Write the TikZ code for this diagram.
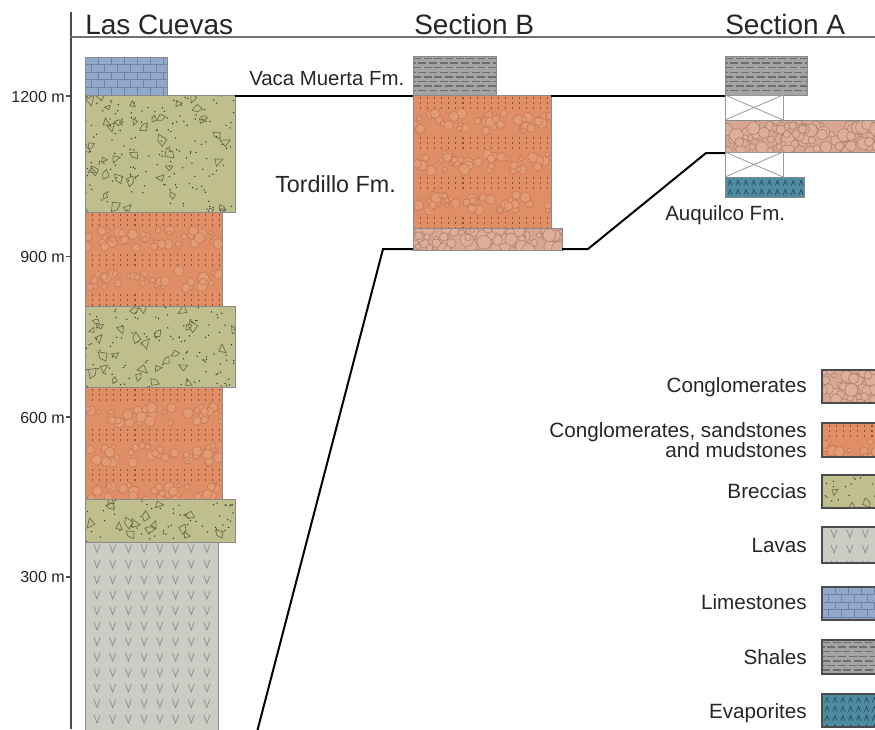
\documentclass[tikz,border=0pt]{standalone}
\usepackage{fontspec}
\setmainfont{Liberation Sans}

% lithology colours
\definecolor{limeFill}{HTML}{93A9CB}
\definecolor{limeLine}{HTML}{6C84A8}
\definecolor{shaleFill}{HTML}{A4A4A4}
\definecolor{shaleLine}{HTML}{6E6E6E}
\definecolor{brecFill}{HTML}{BEBF8C}
\definecolor{brecLine}{HTML}{6A6B48}
\definecolor{cgsmFill}{HTML}{DF8E66}
\definecolor{cgsmLine}{HTML}{C97B59}
\definecolor{cgsmPeb}{HTML}{E39B75}
\definecolor{cgsmDot}{HTML}{935033}
\definecolor{conglFill}{HTML}{D8A792}
\definecolor{conglLine}{HTML}{B38571}
\definecolor{conglPeb}{HTML}{DDAE99}
\definecolor{lavaFill}{HTML}{C9CDC4}
\definecolor{lavaLine}{HTML}{8E948C}
\definecolor{evapFill}{HTML}{4F8CA2}
\definecolor{evapLine}{HTML}{264E5E}
\definecolor{layerEdge}{HTML}{8A8A8A}
\definecolor{inkText}{HTML}{262626}

% tight two-line key text
\newcommand{\keyfont}{\fontsize{15.5}{14.6}\selectfont\setlength{\lineskiplimit}{-20pt}}

\tikzset{
  layer/.style={draw=layerEdge, line width=0.6pt},
  keybox/.style={draw=black!70, line width=0.9pt},
  corr/.style={draw=black, line width=1.5pt},
  axisline/.style={draw=black!70, line width=0.8pt},
  headrule/.style={draw=black!55, line width=1.3pt},
  colname/.style={font=\fontsize{21}{25}\selectfont, text=inkText, inner sep=0pt, anchor=base west},
  fmname/.style={font=\fontsize{15.3}{18}\selectfont, text=inkText, inner sep=0pt, anchor=base west},
  keyname/.style={font=\keyfont, text=inkText, inner sep=0pt, align=right},
  depth/.style={font=\fontsize{12}{14}\selectfont, text=inkText, inner sep=0pt, anchor=base east},
}

% #1 outline style, #2..#5 = x1,y1,x2,y2
\newcommand{\limestonebox}[5][layer]{%
  \begin{scope}
    \clip (#2,#3) rectangle (#4,#5);
    \fill[limeFill] (#2,#3) rectangle (#4,#5);
    \foreach \j in {0,...,5}{
      \draw[limeLine, line width=0.6pt] (#2,#3+7.6*\j) -- (#4,#3+7.6*\j);
      \pgfmathsetmacro{\off}{mod(\j,2)*6.5}
      \foreach \i in {0,...,7}{
        \draw[limeLine, line width=0.6pt] (#2+\off+13*\i,#3+7.6*\j) -- ++(0,7.6);
      }
    }
  \end{scope}
  \draw[#1] (#2,#3) rectangle (#4,#5);
}

\newcommand{\shalebox}[5][layer]{%
  \begin{scope}
    \clip (#2,#3) rectangle (#4,#5);
    \fill[shaleFill] (#2,#3) rectangle (#4,#5);
    \foreach \j in {0,2,...,10}{
      \draw[shaleLine, line width=1pt, dash pattern=on 6pt off 2pt] (#2,#3+2.5+4.6*\j) -- (#4,#3+2.5+4.6*\j);
    }
    \foreach \j in {1,3,...,9}{
      \draw[shaleLine, line width=1pt, dash pattern=on 6pt off 2pt, dash phase=4pt] (#2,#3+2.5+4.6*\j) -- (#4,#3+2.5+4.6*\j);
    }
  \end{scope}
  \draw[#1] (#2,#3) rectangle (#4,#5);
}

\newcommand{\brecciabox}[5][layer]{%
  \begin{scope}
    \clip (#2,#3) rectangle (#4,#5);
    \fill[brecFill] (#2,#3) rectangle (#4,#5);
    \pgfmathtruncatemacro{\nd}{(#4-#2)*((#5-#3)/110)}
    \foreach \k in {1,...,\nd}{
      \pgfmathsetmacro{\px}{#2+rnd*(#4-#2)}
      \pgfmathsetmacro{\py}{#3+rnd*(#5-#3)}
      \fill[black!80] (\px,\py) circle[radius=0.75];
    }
    \pgfmathtruncatemacro{\np}{(#4-#2)*((#5-#3)/420)}
    \foreach \k in {1,...,\np}{
      \pgfmathsetmacro{\px}{#2+rnd*(#4-#2)}
      \pgfmathsetmacro{\py}{#3+rnd*(#5-#3)}
      \pgfmathsetmacro{\pa}{360*rnd}
      \pgfmathsetmacro{\pr}{3.5+3*rnd}
      \ifodd\k\relax
        \draw[brecLine, line width=0.5pt] (\px,\py) +({\pa}:{\pr}) -- +({\pa+110}:{0.8*\pr}) -- +({\pa+200}:{\pr}) -- +({\pa+285}:{0.6*\pr}) -- cycle;
      \else
        \draw[brecLine, line width=0.5pt] (\px,\py) +({\pa}:{\pr}) -- +({\pa+130}:{0.9*\pr}) -- +({\pa+245}:{0.7*\pr}) -- cycle;
      \fi
    }
  \end{scope}
  \draw[#1] (#2,#3) rectangle (#4,#5);
}

\newcommand{\cgsmbox}[5][layer]{%
  \begin{scope}
    \clip (#2,#3) rectangle (#4,#5);
    \fill[cgsmFill] (#2,#3) rectangle (#4,#5);
    \foreach \j in {0,...,4}{
      \foreach \dy in {3,8,13}{
        \draw[cgsmDot, line width=0.8pt, dash pattern=on 0.8pt off 4.5pt] (#2,#3+40*\j+\dy) -- (#4,#3+40*\j+\dy);
      }
      \pgfmathtruncatemacro{\nc}{(#4-#2)/3.2}
      \foreach \k in {1,...,\nc}{
        \pgfmathsetmacro{\px}{#2+rnd*(#4-#2)}
        \pgfmathsetmacro{\py}{#3+40*\j+18+rnd*18}
        \pgfmathsetmacro{\pr}{2+3.5*rnd}
        \filldraw[fill=cgsmPeb, draw=cgsmLine, line width=0.5pt] (\px,\py) circle[radius=\pr];
      }
    }
  \end{scope}
  \draw[#1] (#2,#3) rectangle (#4,#5);
}

\newcommand{\conglbox}[5][layer]{%
  \begin{scope}
    \clip (#2,#3) rectangle (#4,#5);
    \fill[conglFill] (#2,#3) rectangle (#4,#5);
    \pgfmathtruncatemacro{\nc}{(#4-#2)*((#5-#3)/40)}
    \foreach \k in {1,...,\nc}{
      \pgfmathsetmacro{\px}{#2+rnd*(#4-#2)}
      \pgfmathsetmacro{\py}{#3+rnd*(#5-#3)}
      \pgfmathsetmacro{\pr}{2.5+4.5*rnd}
      \filldraw[fill=conglPeb, draw=conglLine, line width=0.5pt] (\px,\py) circle[radius=\pr];
    }
  \end{scope}
  \draw[#1] (#2,#3) rectangle (#4,#5);
}

\newcommand{\lavabox}[5][layer]{%
  \begin{scope}
    \clip (#2,#3) rectangle (#4,#5);
    \fill[lavaFill] (#2,#3) rectangle (#4,#5);
    \foreach \i in {0,...,9}{
      \foreach \j in {0,...,12}{
        \draw[lavaLine, line width=0.6pt] (#2+9+15.7*\i,#3+2.5+15.5*\j) -- ++(3,8) -- ++(3,-8);
      }
    }
  \end{scope}
  \draw[#1] (#2,#3) rectangle (#4,#5);
}

\newcommand{\evapbox}[5][layer]{%
  \begin{scope}
    \clip (#2,#3) rectangle (#4,#5);
    \fill[evapFill] (#2,#3) rectangle (#4,#5);
    \foreach \i in {0,...,11}{
      \foreach \j in {0,...,4}{
        \draw[evapLine, line width=0.55pt] (#2+3+7.9*\i,#3+8.5+9*\j) -- ++(2,-5) -- ++(2,5);
      }
    }
  \end{scope}
  \draw[#1] (#2,#3) rectangle (#4,#5);
}

% unexposed interval
\newcommand{\coveredbox}[4]{%
  \draw[draw=black!40, fill=white, line width=0.6pt] (#1,#2) rectangle (#3,#4);
  \draw[draw=black!40, line width=0.6pt] (#1,#2) -- (#3,#4) (#1,#4) -- (#3,#2);
}

\begin{document}
\begin{tikzpicture}[x=0.75pt,y=0.75pt,yscale=-1,xscale=1]
\useasboundingbox (0,0) rectangle (875,729);
\clip (0,0) rectangle (875,729);
\pgfmathsetseed{11}

%Straight Lines: depth axis and header rule
\draw [axisline] (71,12) -- (71,729);
\draw [headrule] (71,37) -- (880,37);
\draw [axisline] (66,96) -- (71,96);
\draw [axisline] (66,256.5) -- (71,256.5);
\draw [axisline] (66,417) -- (71,417);
\draw [axisline] (66,577) -- (71,577);

% Text Node
\node [depth] (d1200) at (65,102) {1200 m};
\node [depth] (d900) at (65,262.5) {900 m};
\node [depth] (d600) at (65,423) {600 m};
\node [depth] (d300) at (65,582.5) {300 m};

% Text Node
\node [colname] (lasCuevas) at (85,34) {Las Cuevas};
\node [colname] (secB) at (414,34.5) {Section B};
\node [colname] (secA) at (725,34.5) {Section A};

%Shape: Las Cuevas column
\limestonebox{85}{57}{167}{95}
\brecciabox{85}{95}{235}{212}
\cgsmbox{85}{212}{222}{306}
\brecciabox{85}{306}{235}{387}
\cgsmbox{85}{387}{222}{499}
\brecciabox{85}{499}{235}{542}
\lavabox{85}{542}{218}{735}

%Shape: Section B column
\shalebox{413}{56}{496}{95}
\cgsmbox{413}{95}{551}{228}
\conglbox{413}{228}{562}{250}

%Shape: Section A column
\shalebox{725}{56}{807}{95}
\coveredbox{725}{95}{783}{120}
\conglbox{725}{120}{880}{152}
\coveredbox{725}{152}{783}{177}
\evapbox{725}{177}{804}{197}

% correlation tie points
\coordinate (vmLC) at (235,95.5);
\coordinate (vmBwest) at (413,95.5);
\coordinate (vmBeast) at (551,95.5);
\coordinate (vmAwest) at (725,95.5);
\coordinate (tdFoot) at (257,732);
\coordinate (tdKnee) at (383,249);
\coordinate (tdBwest) at (413,249);
\coordinate (tdBeast) at (562,249);
\coordinate (tdStep) at (588,249);
\coordinate (tdRise) at (706,153);
\coordinate (tdAwest) at (725,153);

%Straight Lines
\draw [corr] (vmLC) -- (vmBwest);
\draw [corr] (vmBeast) -- (vmAwest);
\draw [corr] (tdFoot) -- (tdKnee) -- (tdBwest);
\draw [corr] (tdBeast) -- (tdStep) -- (tdRise) -- (tdAwest);

% Text Node
\node [fmname] (vacaMuerta) at (249,85) {Vaca Muerta Fm.};
\node [fmname, font=\fontsize{17.5}{20}\selectfont] (tordillo) at (275,192) {Tordillo Fm.};
\node [fmname, font=\fontsize{15.4}{18}\selectfont] (auquilco) at (665,220) {Auquilco Fm.};

%Shape: key boxes
\conglbox[keybox]{822}{370}{880}{403}
\cgsmbox[keybox]{822}{423}{880}{457}
\brecciabox[keybox]{822}{475}{880}{508}
\lavabox[keybox]{822}{527}{880}{563}
\limestonebox[keybox]{822}{587}{880}{620}
\shalebox[keybox]{822}{640}{880}{674}
\evapbox[keybox]{822}{694}{880}{727}

% Text Node
\node [keyname, anchor=base east] (kCgl) at (807,392) {Conglomerates};
\node [keyname, anchor=east] (kCgsm) at (807,440) {Conglomerates, sandstones\\and mudstones};
\node [keyname, anchor=base east] (kBre) at (807,498) {Breccias};
\node [keyname, anchor=base east] (kLava) at (807,552) {Lavas};
\node [keyname, anchor=base east] (kLime) at (807,609) {Limestones};
\node [keyname, anchor=base east] (kShale) at (807,664) {Shales};
\node [keyname, anchor=base east] (kEvap) at (807,718) {Evaporites};

\end{tikzpicture}
\end{document}
